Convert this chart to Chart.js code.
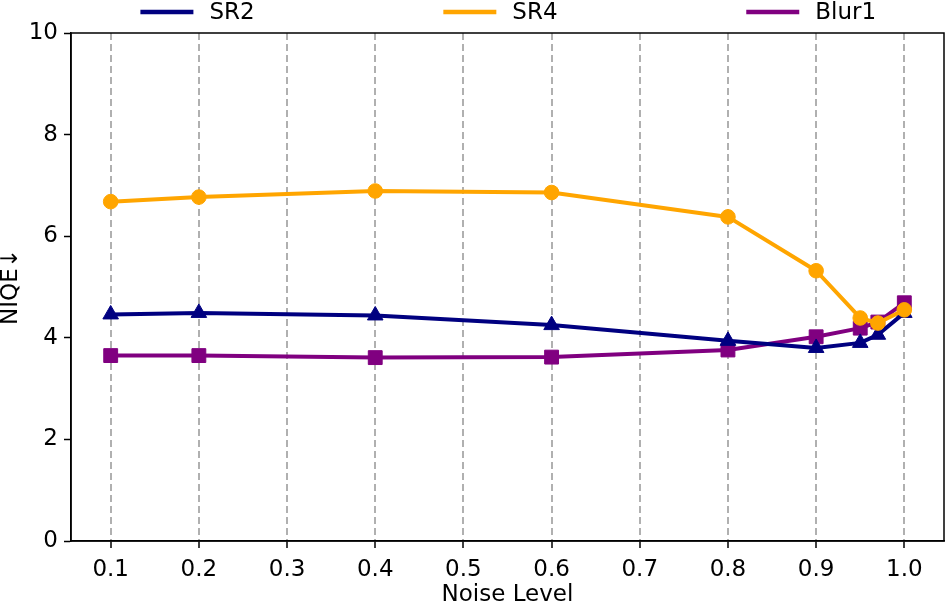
<!DOCTYPE html>
<html><head><meta charset="utf-8">
<script src="https://cdn.jsdelivr.net/npm/chart.js@4/dist/chart.umd.min.js"></script>
<style>html,body{margin:0;padding:0;background:#fff;overflow:hidden}</style>
</head><body>
<canvas id="c" width="951" height="607" style="width:951px;height:607px;display:block"></canvas>
<script>
const noiseLevels = [0.1, 0.2, 0.4, 0.6, 0.8, 0.9, 0.95, 0.97, 1.0];
const sr2 = [4.46, 4.49, 4.44, 4.25, 3.94, 3.80, 3.90, 4.06, 4.49];
const sr4 = [6.68, 6.77, 6.89, 6.86, 6.38, 5.32, 4.39, 4.29, 4.55];
const blur1 = [3.65, 3.65, 3.61, 3.62, 3.76, 4.02, 4.19, 4.31, 4.69];
const seriesNames = ['SR2', 'SR4', 'Blur1'];
const seriesColors = ['#000080', '#ffa500', '#800080'];
const xTicks = [0.1, 0.2, 0.3, 0.4, 0.5, 0.6, 0.7, 0.8, 0.9, 1.0];
const yTicks = [0, 2, 4, 6, 8, 10];
const xTitle = 'Noise Level';
const yTitle = 'NIQE↓';

const FONT = {family: 'DejaVu Sans', size: 23};

function pts(vals) { return noiseLevels.map((x, i) => ({x: x, y: vals[i]})); }

const framePlugin = {
  id: 'frame',
  afterDatasetsDraw(chart) {
    const a = chart.chartArea, ctx = chart.ctx;
    ctx.save();
    ctx.strokeStyle = '#000';
    ctx.lineWidth = 1.5;
    ctx.strokeRect(a.left, a.top, a.right - a.left, a.bottom - a.top);
    ctx.restore();
  }
};

const legendPlugin = {
  id: 'topLegend',
  afterDraw(chart) {
    const ctx = chart.ctx;
    const a = chart.chartArea;
    const w = a.right - a.left;
    ctx.save();
    ctx.font = FONT.size + 'px "' + FONT.family + '"';
    ctx.textBaseline = 'middle';
    ctx.fillStyle = '#000';
    const y = 12;
    for (let i = 0; i < seriesNames.length; i++) {
      const x0 = a.left + 0.0795 * w + i * 0.347 * w;
      ctx.strokeStyle = seriesColors[i];
      ctx.lineWidth = 4.5;
      ctx.beginPath();
      ctx.moveTo(x0, y);
      ctx.lineTo(x0 + 53, y);
      ctx.stroke();
      ctx.fillText(seriesNames[i], x0 + 69, y + 1);
    }
    ctx.restore();
  }
};

function ds(i, vals, style, radius, order) {
  return {
    label: seriesNames[i],
    data: pts(vals),
    borderColor: seriesColors[i],
    backgroundColor: seriesColors[i],
    pointBackgroundColor: seriesColors[i],
    pointBorderColor: seriesColors[i],
    pointBorderWidth: 1,
    pointStyle: style,
    pointRadius: radius,
    borderWidth: 4,
    borderJoinStyle: 'round',
    tension: 0,
    order: order
  };
}

new Chart(document.getElementById('c'), {
  type: 'line',
  data: {
    datasets: [
      ds(0, sr2, 'triangle', 9, 1),
      ds(1, sr4, 'circle', 7.3, 0),
      ds(2, blur1, 'rect', 9.8, 2)
    ]
  },
  options: {
    responsive: false,
    animation: false,
    devicePixelRatio: 1,
    layout: {autoPadding: false, padding: {top: 33, right: 7, left: 0, bottom: 0}},
    plugins: {legend: {display: false}, tooltip: {enabled: false}},
    scales: {
      x: {
        type: 'linear',
        min: 0.055,
        max: 1.045,
        afterBuildTicks: s => { s.ticks = xTicks.map(v => ({value: v})); },
        afterFit: s => { s.height = 66; s.paddingLeft = 0; s.paddingRight = 0; },
        ticks: {
          callback: v => Number(v).toFixed(1),
          font: FONT, color: '#000', padding: 8,
          maxRotation: 0, autoSkip: false
        },
        grid: {
          color: '#b0b0b0', lineWidth: 2,
          tickColor: '#000', tickLength: 7, tickWidth: 1.5, tickBorderDash: []
        },
        border: {display: true, color: '#000', width: 1.5, dash: [7, 4]},
        title: {display: true, text: xTitle, font: FONT, color: '#000', padding: {top: 0, bottom: -2}}
      },
      y: {
        type: 'linear',
        min: 0,
        max: 10,
        afterBuildTicks: s => { s.ticks = yTicks.map(v => ({value: v})); },
        afterFit: s => { s.width = 71; s.paddingTop = 0; s.paddingBottom = 0; },
        ticks: {font: FONT, color: '#000', padding: 6},
        grid: {drawOnChartArea: false, tickColor: '#000', tickLength: 7, tickWidth: 1.5},
        border: {display: true, color: '#000', width: 1.5},
        title: {display: true, text: yTitle, font: FONT, color: '#000', padding: {top: -3, bottom: 0}}
      }
    }
  },
  plugins: [framePlugin, legendPlugin]
});
</script>
</body></html>
